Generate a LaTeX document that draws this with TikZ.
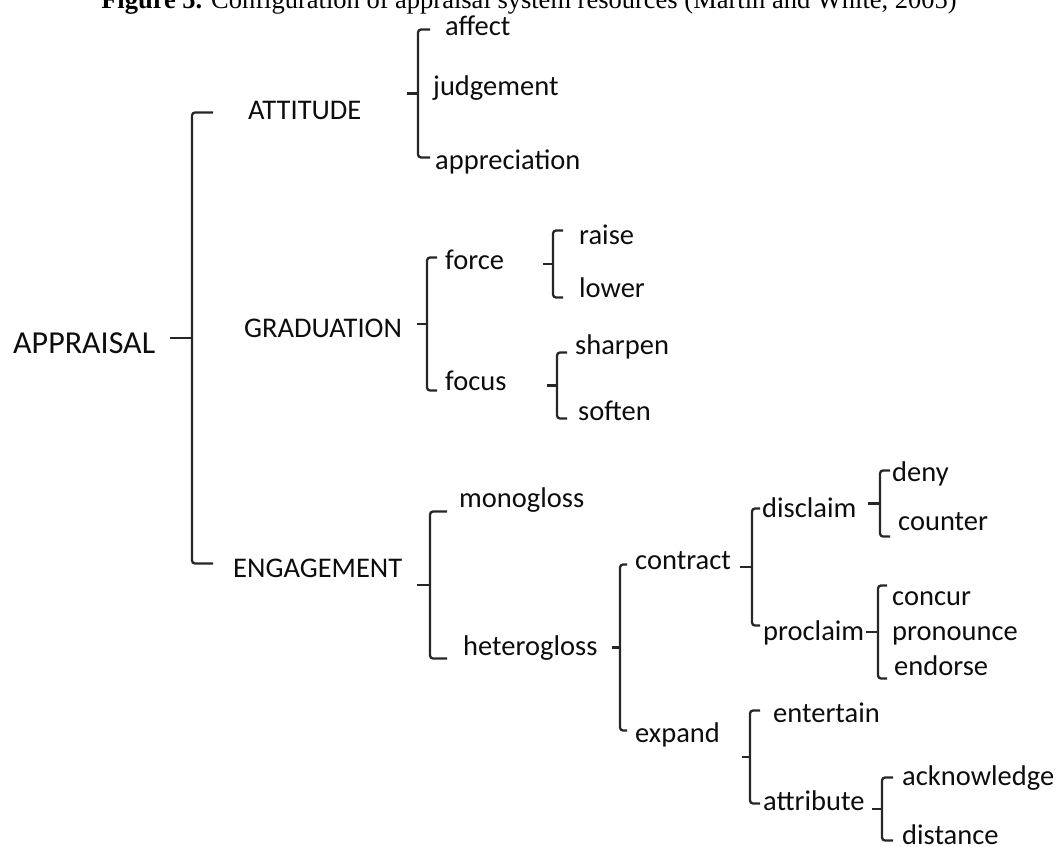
\documentclass[tikz,border=0pt]{standalone}
\usepackage{fontspec}
\setmainfont{Carlito}
\newfontfamily\titlefont{Liberation Serif}
\usetikzlibrary{calc}

\begin{document}
\begin{tikzpicture}[x=1pt,y=-1pt,
  lbl/.style={anchor=base west,inner sep=0pt,text height=13pt,text depth=0pt,text=black!95,font=\fontsize{28.5}{30}\selectfont},
  brk/.style={line width=2.3pt,draw=black!85,rounded corners=3pt}]
  \useasboundingbox (0,0) rectangle (1056,846);

  \node[anchor=base,font=\titlefont\fontsize{26.5}{28}\selectfont] (title) at (529,8)
    {\textbf{Figure 5.} Configuration of appraisal system resources (Martin and White, 2005)};

  \node[lbl,font=\fontsize{32}{34}\selectfont] (appraisal) at (13,353) {APPRAISAL};
  \node[lbl] (attitude) at (248,119) {ATTITUDE};
  \node[lbl] (graduation) at (244,337) {GRADUATION};
  \node[lbl] (engagement) at (233,577) {ENGAGEMENT};

  \node[lbl] (affect) at (445,35) {affect};
  \node[lbl] (judgement) at (433,95) {judgement};
  \node[lbl] (appreciation) at (435,169) {appreciation};

  \node[lbl] (force) at (445,269) {force};
  \node[lbl] (focus) at (445,390) {focus};
  \node[lbl] (raise) at (579,244) {raise};
  \node[lbl] (lower) at (579,297) {lower};
  \node[lbl] (sharpen) at (575,354) {sharpen};
  \node[lbl] (soften) at (578,420) {soften};

  \node[lbl] (monogloss) at (459,507) {monogloss};
  \node[lbl] (heterogloss) at (463,655) {heterogloss};
  \node[lbl] (contract) at (635,569) {contract};
  \node[lbl] (expand) at (635,742) {expand};
  \node[lbl] (disclaim) at (762,517) {disclaim};
  \node[lbl] (proclaim) at (763,640) {proclaim};
  \node[lbl] (entertain) at (773,722) {entertain};
  \node[lbl] (attribute) at (763,810) {attribute};
  \node[lbl] (deny) at (892,481) {deny};
  \node[lbl] (counter) at (898,530) {counter};
  \node[lbl] (concur) at (892,605) {concur};
  \node[lbl] (pronounce) at (892,640) {pronounce};
  \node[lbl] (endorse) at (894,675) {endorse};
  \node[lbl] (acknowledge) at (902,785) {acknowledge};
  \node[lbl] (distance) at (902,844) {distance};

  % brackets: x of the bar / first child / last child / shifts / tick / middle tick
  \foreach \x/\a/\b/\da/\db/\t/\m in {
      192/attitude/engagement/0/7/21/22,
      418/affect/appreciation/-1/5/12/11,
      427/force/focus/5/-7/10/10,
      553/raise/lower/7/-7/10/10,
      557/sharpen/soften/-5/-5/10/10,
      430/monogloss/heterogloss/-11/-10/17/13,
      620/contract/expand/-2/5/7/8,
      752/disclaim/proclaim/2/8/8/12,
      880/deny/counter/4/-13/10/12,
      878/concur/endorse/13/-10/9/12,
      750/entertain/attribute/5/0/10/8,
      882/acknowledge/distance/1/-3/11/10} {
    \draw[brk] ([xshift=\t pt,yshift=\da pt]\x,0 |- \a) -- ([yshift=\da pt]\x,0 |- \a)
      -- ([yshift=\db pt]\x,0 |- \b) -- ([xshift=\t pt,yshift=\db pt]\x,0 |- \b);
    \draw[brk] ($([yshift=\da pt]\x,0 |- \a)!.5!([yshift=\db pt]\x,0 |- \b)$) -- ++(-\m,0);
  }
\end{tikzpicture}
\end{document}
